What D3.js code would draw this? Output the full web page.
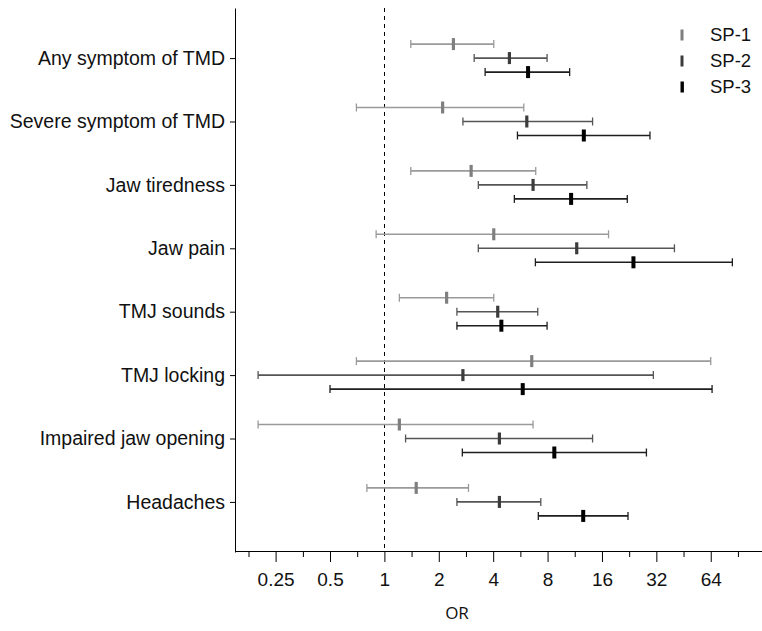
<!DOCTYPE html>
<html>
<head>
<meta charset="utf-8">
<script src="https://cdn.jsdelivr.net/npm/d3@7"></script>
<style>
  body { margin: 0; background: #fff; }
  svg { display: block; }
</style>
</head>
<body>
<svg id="viz"></svg>
<script>
var width = 762;
var height = 631;

var categories = ["Any symptom of TMD", "Severe symptom of TMD", "Jaw tiredness", "Jaw pain",
                  "TMJ sounds", "TMJ locking", "Impaired jaw opening", "Headaches"];
var seriesNames = ["SP-1", "SP-2", "SP-3"];
var xTicks = [0.25, 0.5, 1, 2, 4, 8, 16, 32, 64];
var xMinorTicks = [0.177, 0.354, 0.707, 1.414, 2.828, 5.657, 11.31, 22.63, 45.25, 90.51];

// odds ratio and 95% CI per category
var sp1Or = [2.41, 2.10, 3.02, 4.03, 2.21, 6.54, 1.21, 1.50];
var sp1Lo = [1.40, 0.70, 1.40, 0.90, 1.21, 0.70, 0.20, 0.80];
var sp1Hi = [4.03, 5.91, 6.88, 17.4, 4.03, 64.0, 6.65, 2.92];
var sp2Or = [4.92, 6.14, 6.65, 11.6, 4.24, 2.72, 4.33, 4.33];
var sp2Lo = [3.14, 2.72, 3.31, 3.31, 2.52, 0.20, 1.31, 2.52];
var sp2Hi = [7.95, 14.2, 13.2, 40.3, 7.06, 30.8, 14.2, 7.34];
var sp3Or = [6.24, 12.7, 10.8, 23.9, 4.44, 5.83, 8.72, 12.6];
var sp3Lo = [3.61, 5.45, 5.24, 6.85, 2.52, 0.50, 2.70, 7.11];
var sp3Hi = [10.6, 29.5, 22.1, 84.3, 7.95, 65.1, 28.2, 22.3];

var lineColors = ["#9a9a9a", "#555555", "#1e1e1e"];
var markColors = ["#7f7f7f", "#3c3c3c", "#000000"];

var seriesData = [
    {name: "SP-1", or: sp1Or, lo: sp1Lo, hi: sp1Hi},
    {name: "SP-2", or: sp2Or, lo: sp2Lo, hi: sp2Hi},
    {name: "SP-3", or: sp3Or, lo: sp3Lo, hi: sp3Hi}
];

var rows = [];
seriesData.forEach(function(s, si) {
    categories.forEach(function(c, i) {
        rows.push({cat: c, series: s.name, si: si, or: s.or[i], lo: s.lo[i], hi: s.hi[i]});
    });
});

var svg = d3.select("#viz").attr("width", width).attr("height", height);

var x = d3.scaleLog().base(2).domain([0.149, 123]).range([235, 762]);
var y = d3.scalePoint().domain(categories).range([8, 552]).padding(0.79);
var yOff = d3.scalePoint().domain(seriesNames).range([-14, 14]);

var fontMain = "'Liberation Sans', Arial, sans-serif";

// reference line at OR = 1
svg.append("line")
    .attr("x1", Math.round(x(1)) + 0.5).attr("x2", Math.round(x(1)) + 0.5)
    .attr("y1", 8).attr("y2", 551)
    .attr("stroke", "#000")
    .attr("stroke-width", 1)
    .attr("stroke-dasharray", "4,4");

// x axis
var xAxis = svg.append("g")
    .attr("transform", "translate(0,551)")
    .call(d3.axisBottom(x).tickValues(xTicks).tickSize(11).tickSizeOuter(0).tickPadding(11)
        .tickFormat(function(d) { return d; }));
xAxis.selectAll("text").style("font-family", fontMain).style("font-size", "19px").attr("fill", "#111");

svg.append("g")
    .attr("transform", "translate(0,551)")
    .call(d3.axisBottom(x).tickValues(xMinorTicks).tickSize(6).tickFormat(""))
    .select(".domain").remove();

// y axis
var yAxis = svg.append("g")
    .attr("transform", "translate(235,0)")
    .call(d3.axisLeft(y).tickSize(5).tickSizeOuter(0).tickPadding(5));
yAxis.selectAll("text").style("font-family", fontMain).style("font-size", "19.5px").attr("fill", "#111");

// error bars
var bars = svg.append("g").attr("class", "bars")
    .selectAll("g")
    .data(rows)
    .enter()
    .append("g")
    .attr("transform", function(d) { return "translate(0," + (y(d.cat) + yOff(d.series)) + ")"; });

bars.append("line")
    .attr("x1", function(d) { return x(d.lo); })
    .attr("x2", function(d) { return x(d.hi); })
    .attr("stroke", function(d) { return lineColors[d.si]; })
    .attr("stroke-width", 1.6);

bars.selectAll(".cap")
    .data(function(d) { return [d, d].map(function(o, k) { return {v: k == 0 ? o.lo : o.hi, si: o.si}; }); })
    .enter()
    .append("line")
    .attr("class", "cap")
    .attr("x1", function(d) { return x(d.v); })
    .attr("x2", function(d) { return x(d.v); })
    .attr("y1", -4).attr("y2", 4)
    .attr("stroke", function(d) { return lineColors[d.si]; })
    .attr("stroke-width", 1.3);

bars.append("rect")
    .attr("x", function(d) { return x(d.or) - (d.si == 2 ? 2 : 1.6); })
    .attr("width", function(d) { return d.si == 2 ? 4 : 3.2; })
    .attr("y", -6).attr("height", 12)
    .attr("fill", function(d) { return markColors[d.si]; });

// legend
var legend = svg.append("g").attr("class", "legend")
    .selectAll("g")
    .data(seriesNames)
    .enter()
    .append("g")
    .attr("transform", function(d, i) { return "translate(682," + (35 + i * 26) + ")"; });

legend.append("rect")
    .attr("x", -1.5).attr("width", function(d, i) { return i == 2 ? 3.4 : 3; })
    .attr("y", -5.5).attr("height", 11)
    .attr("fill", function(d, i) { return markColors[i]; });

legend.append("text")
    .attr("x", 28)
    .attr("dy", "0.35em")
    .text(function(d) { return d; })
    .style("font-family", fontMain)
    .style("font-size", "18.5px")
    .attr("fill", "#111");

// x axis title
svg.append("text")
    .attr("x", 457)
    .attr("y", 619)
    .attr("text-anchor", "middle")
    .text("OR")
    .style("font-family", "'Open Sans', sans-serif")
    .style("font-size", "17px")
    .attr("fill", "#111");
</script>
</body>
</html>
